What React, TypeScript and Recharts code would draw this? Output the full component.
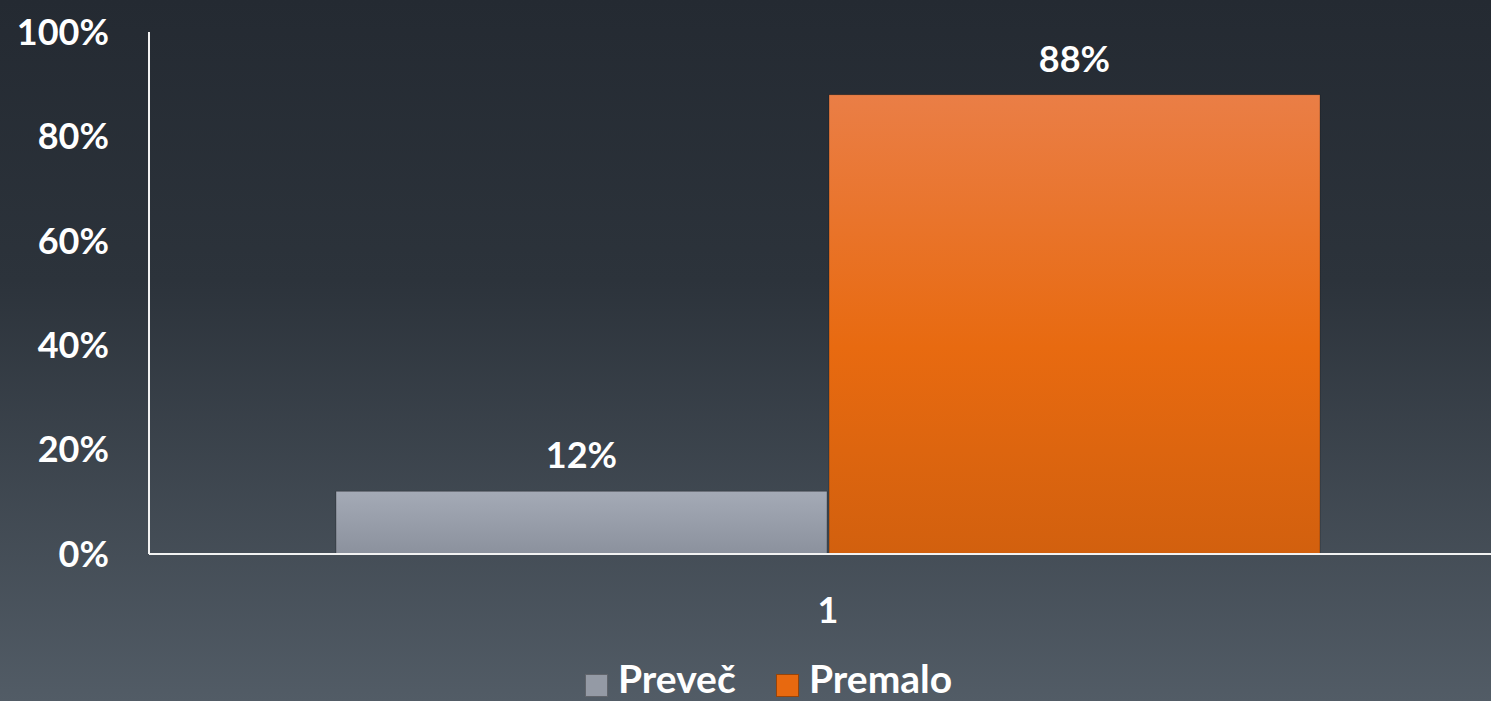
import { BarChart, Bar, XAxis, YAxis, Legend, LabelList } from "recharts";

const categories = ["1"];
const prevecValues = [12];
const premaloValues = [88];
const yTicks = [0, 20, 40, 60, 80, 100];

const SERIES = [
  { key: "prevec", name: "Preveč", grad: "gradGray", swatch: "#949aa5" },
  { key: "premalo", name: "Premalo", grad: "gradOrange", swatch: "#e8690f" },
];

const FONT = "Lato, 'Open Sans', sans-serif";

const data = categories.map((c, i) => ({
  name: c,
  prevec: prevecValues[i],
  premalo: premaloValues[i],
}));

function XTick(props: any) {
  const { x, payload } = props;
  return (
    <text x={x} y={623} textAnchor="middle" fill="#ffffff" fontSize={36} fontWeight={700} fontFamily={FONT}>
      {payload.value}
    </text>
  );
}

function LegendBox() {
  return (
    <div style={{ position: "relative", height: 50, fontFamily: FONT, fontWeight: 700, fontSize: 39, color: "#fff" }}>
      {SERIES.map((s, i) => (
        <div
          key={s.key}
          style={{ position: "absolute", left: i === 0 ? 585 : 776, top: 0, display: "flex", alignItems: "center", height: 50 }}
        >
          <span
            style={{
              display: "inline-block",
              width: 23,
              height: 23,
              marginTop: 18,
              background: s.swatch,
              border: "1px solid rgba(0,0,0,0.35)",
              boxSizing: "border-box",
            }}
          />
          <span style={{ marginLeft: 10, lineHeight: "50px", marginTop: 4 }}>{s.name}</span>
        </div>
      ))}
    </div>
  );
}

export default function App() {
  return (
    <div
      style={{
        position: "absolute",
        left: 0,
        top: 0,
        width: 1491,
        height: 701,
        overflow: "hidden",
        background: "linear-gradient(to bottom, #242a32 0%, #2c333b 40%, #525c66 100%)",
      }}
    >
      <BarChart
        width={1491}
        height={701}
        data={data}
        margin={{ top: 32, right: -16, left: 0, bottom: 0 }}
        barCategoryGap={187}
        barGap={2}
      >
        <defs>
          <linearGradient id="gradGray" x1="0" y1="0" x2="0" y2="1">
            <stop offset="0%" stopColor="#a4aab6" />
            <stop offset="100%" stopColor="#8b919d" />
          </linearGradient>
          <linearGradient id="gradOrange" x1="0" y1="0" x2="0" y2="1">
            <stop offset="0%" stopColor="#ea7e46" />
            <stop offset="55%" stopColor="#e86a10" />
            <stop offset="100%" stopColor="#d2600e" />
          </linearGradient>
        </defs>
        <XAxis
          dataKey="name"
          axisLine={{ stroke: "#f2f2f2", strokeWidth: 2 }}
          tickLine={false}
          tick={<XTick />}
          height={97}
        />
        <YAxis
          domain={[0, 100]}
          ticks={yTicks}
          tickFormatter={(v: number) => `${v}%`}
          axisLine={{ stroke: "#f2f2f2", strokeWidth: 2 }}
          tickLine={false}
          tickSize={0}
          tickMargin={40}
          width={149}
          tick={{ fill: "#ffffff", fontSize: 36, fontWeight: 700, fontFamily: FONT }}
        />
        <Legend verticalAlign="bottom" content={<LegendBox />} />
        {SERIES.map((s) => (
          <Bar
            key={s.key}
            dataKey={s.key}
            name={s.name}
            fill={`url(#${s.grad})`}
            stroke="rgba(0,0,0,0.25)"
            strokeWidth={1}
            isAnimationActive={false}
          >
            <LabelList
              dataKey={s.key}
              position="top"
              offset={23}
              formatter={(v: any) => `${v}%`}
              fill="#ffffff"
              fontSize={36}
              fontWeight={700}
              fontFamily={FONT}
            />
          </Bar>
        ))}
      </BarChart>
    </div>
  );
}
